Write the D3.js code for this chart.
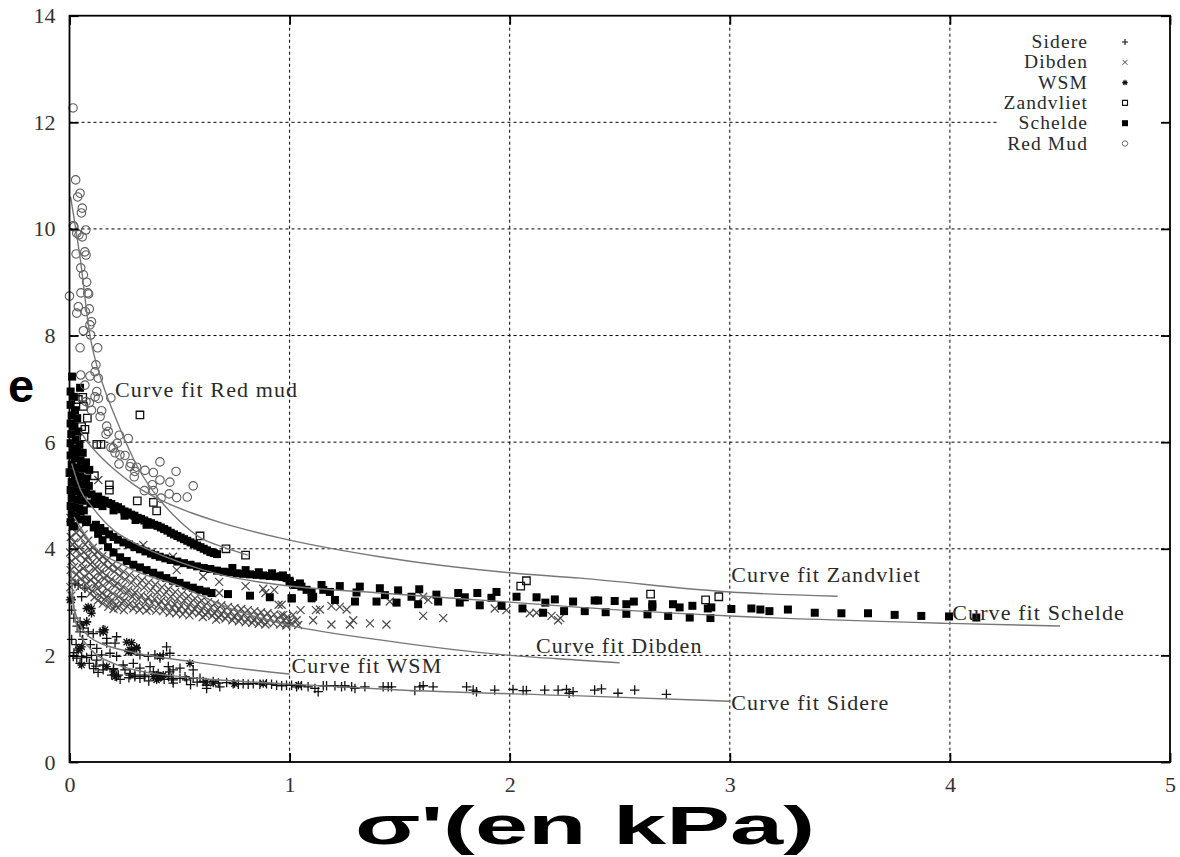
<!DOCTYPE html>
<html>
<head>
<meta charset="utf-8">
<script src="https://cdnjs.cloudflare.com/ajax/libs/d3/7.8.5/d3.min.js"></script>
<style>
  html, body { margin: 0; padding: 0; background: #fff; }
  svg { display: block; }
</style>
</head>
<body>
<div id="chart"></div>
<script>
// ---- data ----
const xTicks = [0, 1, 2, 3, 4, 5];
const yTicks = [0, 2, 4, 6, 8, 10, 12, 14];
const seriesNames = ['Sidere', 'Dibden', 'WSM', 'Zandvliet', 'Schelde', 'Red Mud'];

const sidere = [
  [0.025, 3.35], [0.04, 3.32], [0.07, 3.26], [0.055, 3.10], [0.01, 2.85], [0.02, 2.7], [0.035, 2.55],
  [0.048, 2.63], [0.078, 2.63], [0.063, 2.51], [0.085, 2.44], [0.048, 2.44], [0.108, 2.41], [0.139, 2.44],
  [0.153, 2.48], [0.01, 2.3], [0.03, 2.2], [0.02, 2.05], [0.06, 2.3], [0.095, 2.2], [0.1, 2.0],
  [0.017, 1.98], [0.033, 1.95], [0.055, 1.98], [0.078, 1.96], [0.048, 1.85], [0.09, 1.85], [0.12, 1.8],
  [0.13, 1.68], [0.11, 1.75], [0.169, 2.32], [0.214, 2.35], [0.207, 2.23], [0.169, 2.23], [0.124, 2.13],
  [0.146, 2.01], [0.124, 1.91], [0.184, 2.04], [0.214, 1.98], [0.153, 1.82], [0.153, 1.73], [0.192, 1.63],
  [0.2, 1.73], [0.214, 1.6], [0.222, 1.63], [0.2, 1.75], [0.252, 1.73], [0.275, 1.63], [0.275, 1.66],
  [0.297, 1.63], [0.297, 1.6], [0.23, 1.55], [0.27, 1.58], [0.32, 1.57], [0.343, 1.63], [0.34, 1.6],
  [0.36, 1.52], [0.32, 2.01], [0.358, 1.98], [0.388, 2.01], [0.411, 1.95], [0.441, 2.16], [0.456, 2.04],
  [0.426, 2.01], [0.244, 1.82], [0.29, 1.85], [0.32, 1.76], [0.366, 1.79], [0.381, 1.69], [0.403, 1.66],
  [0.449, 1.79], [0.471, 1.73], [0.456, 1.69], [0.464, 1.57], [0.43, 1.55], [0.45, 1.6], [0.502, 1.76],
  [0.562, 1.73], [0.593, 1.57], [0.471, 1.54], [0.502, 1.57], [0.525, 1.6], [0.471, 1.48], [0.532, 1.54],
  [0.562, 1.57], [0.55, 1.45], [0.58, 1.5], [0.607, 1.51], [0.623, 1.44], [0.653, 1.51], [0.676, 1.48],
  [0.683, 1.41], [0.623, 1.38], [0.714, 1.49], [0.744, 1.47], [0.767, 1.46], [0.789, 1.47], [0.812, 1.46],
  [0.835, 1.47], [0.865, 1.46], [0.895, 1.47], [0.918, 1.46], [0.941, 1.44], [0.964, 1.43], [0.986, 1.44],
  [1.009, 1.44], [1.032, 1.41], [1.054, 1.43], [1.084, 1.41], [1.115, 1.38], [1.13, 1.32], [1.153, 1.43],
  [1.168, 1.43], [1.206, 1.43], [1.236, 1.41], [1.251, 1.43], [1.282, 1.41], [1.297, 1.38], [1.342, 1.41],
  [1.425, 1.41], [1.448, 1.41], [1.463, 1.41], [1.569, 1.34], [1.592, 1.41], [1.607, 1.43], [1.652, 1.41],
  [1.804, 1.41], [1.834, 1.35], [1.849, 1.32], [1.932, 1.35], [2.015, 1.36], [2.061, 1.34], [2.076, 1.34],
  [2.159, 1.35], [2.22, 1.35], [2.258, 1.36], [2.288, 1.32], [2.27, 1.29], [2.386, 1.35], [2.417, 1.37],
  [2.492, 1.29], [2.568, 1.35], [2.712, 1.27]
];

const dibden = [
  [0.004, 4.58], [0.012, 4.41], [0.006, 4.22], [0.015, 4.08], [0.003, 3.93], [0.01, 3.77], [0.005, 3.6],
  [0.013, 3.44], [0.004, 3.28], [0.009, 3.12], [0.025, 4.47], [0.031, 4.3], [0.022, 4.12], [0.034, 3.98],
  [0.027, 3.83], [0.021, 3.66], [0.033, 3.52], [0.026, 3.37], [0.045, 4.36], [0.052, 4.2], [0.041, 4.03],
  [0.049, 3.88], [0.055, 3.72], [0.043, 3.58], [0.051, 3.43], [0.047, 3.29], [0.064, 4.27], [0.071, 4.08],
  [0.066, 3.94], [0.074, 3.79], [0.062, 3.63], [0.07, 3.47], [0.077, 3.35], [0.085, 4.15], [0.092, 3.99],
  [0.083, 3.86], [0.095, 3.71], [0.088, 3.56], [0.097, 3.41], [0.086, 3.26], [0.094, 3.16], [0.106, 4.02],
  [0.113, 3.9], [0.104, 3.75], [0.117, 3.62], [0.109, 3.47], [0.119, 3.33], [0.103, 3.21], [0.114, 3.09],
  [0.128, 3.94], [0.135, 3.79], [0.124, 3.66], [0.139, 3.52], [0.131, 3.39], [0.126, 3.25], [0.137, 3.12],
  [0.129, 3.03], [0.149, 3.86], [0.156, 3.71], [0.145, 3.58], [0.159, 3.44], [0.152, 3.31], [0.147, 3.17],
  [0.158, 3.05], [0.151, 2.97], [0.171, 3.79], [0.178, 3.64], [0.167, 3.5], [0.181, 3.37], [0.174, 3.23],
  [0.169, 3.1], [0.184, 2.99], [0.176, 2.91], [0.195, 3.7], [0.203, 3.57], [0.191, 3.43], [0.207, 3.3],
  [0.198, 3.16], [0.193, 3.04], [0.209, 2.94], [0.2, 2.87], [0.219, 3.63], [0.228, 3.49], [0.216, 3.36],
  [0.232, 3.22], [0.223, 3.1], [0.236, 2.98], [0.221, 2.89], [0.245, 3.57], [0.254, 3.42], [0.242, 3.29],
  [0.259, 3.16], [0.249, 3.03], [0.263, 2.92], [0.247, 2.85], [0.272, 3.51], [0.281, 3.36], [0.268, 3.23],
  [0.286, 3.1], [0.276, 2.98], [0.29, 2.88], [0.3, 3.46], [0.309, 3.31], [0.297, 3.18], [0.315, 3.05],
  [0.305, 2.94], [0.318, 2.85], [0.33, 3.41], [0.339, 3.27], [0.326, 3.13], [0.345, 3.01], [0.334, 2.91],
  [0.35, 2.84], [0.36, 3.37], [0.369, 3.22], [0.357, 3.09], [0.376, 2.98], [0.364, 2.88], [0.39, 3.33],
  [0.399, 3.18], [0.386, 3.06], [0.406, 2.95], [0.394, 2.84], [0.42, 3.28], [0.43, 3.14], [0.416, 3.02],
  [0.437, 2.92], [0.425, 2.83], [0.45, 3.24], [0.46, 3.1], [0.447, 2.99], [0.467, 2.89], [0.455, 2.8],
  [0.48, 3.19], [0.49, 3.06], [0.477, 2.96], [0.497, 2.86], [0.485, 2.79], [0.51, 3.15], [0.521, 3.03],
  [0.507, 2.93], [0.528, 2.84], [0.515, 2.77], [0.54, 3.11], [0.551, 2.99], [0.537, 2.9], [0.558, 2.81],
  [0.545, 2.75], [0.57, 3.07], [0.582, 2.96], [0.567, 2.87], [0.589, 2.79], [0.6, 3.03], [0.612, 2.93],
  [0.597, 2.84], [0.619, 2.76], [0.606, 2.72], [0.63, 3.0], [0.642, 2.9], [0.627, 2.81], [0.649, 2.74],
  [0.66, 2.97], [0.672, 2.87], [0.657, 2.79], [0.679, 2.71], [0.666, 2.67], [0.69, 2.94], [0.702, 2.84],
  [0.687, 2.76], [0.709, 2.69], [0.72, 2.91], [0.733, 2.82], [0.717, 2.74], [0.74, 2.66], [0.75, 2.89],
  [0.763, 2.8], [0.747, 2.72], [0.77, 2.64], [0.78, 2.87], [0.793, 2.78], [0.777, 2.7], [0.8, 2.62],
  [0.81, 2.85], [0.823, 2.76], [0.807, 2.68], [0.83, 2.61], [0.84, 2.83], [0.853, 2.74], [0.837, 2.66],
  [0.86, 2.59], [0.87, 2.81], [0.883, 2.72], [0.867, 2.64], [0.89, 2.58], [0.9, 2.79], [0.913, 2.7],
  [0.897, 2.62], [0.93, 2.77], [0.943, 2.68], [0.927, 2.6], [0.96, 2.75], [0.973, 2.66], [0.957, 2.58],
  [0.99, 2.72], [1.0, 2.63], [0.985, 2.56],
  [0.131, 5.29], [0.335, 4.07], [0.47, 3.85], [0.607, 3.48], [0.487, 3.6],
  [0.68, 3.38], [0.68, 3.17], [0.8, 3.3], [0.88, 3.25], [0.89, 3.17], [0.93, 3.23], [1.02, 3.32],
  [0.95, 2.95], [1.05, 2.85], [1.12, 2.85], [0.964, 2.95], [0.971, 2.76], [1.016, 2.76], [1.032, 2.66],
  [1.009, 2.6], [1.039, 2.57], [0.986, 2.6], [1.138, 2.86], [1.107, 2.66], [1.19, 2.93], [1.228, 2.91],
  [1.259, 2.86], [1.19, 2.58], [1.274, 2.58], [1.289, 2.66], [1.365, 2.6], [1.44, 2.58], [1.455, 3.01],
  [1.607, 3.1], [1.63, 3.04], [1.607, 2.74], [1.698, 2.7], [1.932, 2.88], [1.985, 2.85], [2.091, 2.79],
  [2.122, 2.8], [2.19, 2.74], [2.22, 2.66], [2.23, 2.7]
];

const wsm = [
  [0.002, 3.04], [0.01, 3.04], [0.085, 2.91], [0.1, 2.88], [0.078, 2.88], [0.1, 2.79], [0.055, 2.57],
  [0.078, 2.63], [0.161, 2.48], [0.153, 2.44], [0.048, 2.13], [0.055, 2.16], [0.04, 2.1], [0.055, 1.82],
  [0.169, 1.79], [0.199, 1.69], [0.207, 1.6], [0.26, 2.25], [0.267, 2.07], [0.275, 2.1], [0.282, 2.1],
  [0.282, 2.07], [0.305, 2.15], [0.305, 2.13], [0.282, 2.24], [0.381, 1.6], [0.411, 1.6], [0.396, 1.54],
  [0.426, 1.63], [0.403, 1.57], [0.419, 1.6], [0.396, 1.63], [0.411, 1.98], [0.547, 1.85], [0.62, 1.5],
  [0.653, 1.48], [0.75, 1.47], [0.88, 1.47], [1.04, 1.44]
];

const zandvliet = [
  [0.32, 6.51], [0.06, 6.84], [0.04, 6.8], [0.063, 6.67], [0.081, 6.45], [0.055, 6.29], [0.07, 6.24],
  [0.066, 6.1], [0.124, 5.96], [0.143, 5.96], [0.002, 5.43], [0.113, 5.37], [0.181, 5.2], [0.181, 5.1],
  [0.308, 4.9], [0.381, 4.87], [0.396, 4.71], [0.593, 4.24], [0.711, 4.0], [0.8, 3.88],
  [2.076, 3.4], [2.05, 3.3], [2.64, 3.15], [2.89, 3.04], [2.95, 3.1]
];

const schelde = [
  // dense column against the axis
  [0.012, 7.23], [0.048, 7.02], [0.005, 6.95], [0.02, 6.85], [0.005, 6.7], [0.025, 6.6], [0.01, 6.5],
  [0.035, 6.45], [0.005, 6.35], [0.02, 6.3], [0.04, 6.2], [0.008, 6.15], [0.028, 6.05], [0.005, 5.98],
  [0.045, 5.95], [0.015, 5.88], [0.035, 5.82], [0.06, 5.8], [0.005, 5.75], [0.025, 5.7], [0.05, 5.65],
  [0.075, 5.62], [0.01, 5.58], [0.035, 5.52], [0.06, 5.5], [0.09, 5.48], [0.005, 5.42], [0.025, 5.38],
  [0.05, 5.35], [0.075, 5.32], [0.01, 5.25], [0.035, 5.22], [0.06, 5.2], [0.088, 5.18], [0.005, 5.1],
  [0.025, 5.08], [0.05, 5.05], [0.075, 5.05], [0.01, 4.95], [0.035, 4.92], [0.06, 4.9], [0.005, 4.8],
  [0.025, 4.78], [0.045, 4.75], [0.065, 4.72], [0.01, 4.65], [0.03, 4.6], [0.05, 4.55], [0.075, 4.5],
  [0.005, 4.5], [0.02, 4.42],
  // upper run
  [0.1, 5.02], [0.115, 4.96], [0.13, 4.98], [0.145, 4.92], [0.16, 4.9], [0.175, 4.86], [0.19, 4.84],
  [0.205, 4.8], [0.22, 4.78], [0.235, 4.74], [0.25, 4.7], [0.265, 4.68], [0.28, 4.64], [0.295, 4.62],
  [0.31, 4.58], [0.325, 4.56], [0.34, 4.53], [0.355, 4.5], [0.37, 4.48], [0.385, 4.45], [0.4, 4.43],
  [0.415, 4.4], [0.43, 4.37], [0.445, 4.34], [0.46, 4.3], [0.475, 4.27], [0.49, 4.24], [0.505, 4.21],
  [0.52, 4.18], [0.535, 4.15], [0.55, 4.12], [0.565, 4.09], [0.58, 4.06], [0.595, 4.03], [0.61, 4.0],
  [0.625, 3.97], [0.64, 3.94], [0.655, 3.92], [0.67, 3.9],
  [0.095, 4.85], [0.12, 4.84], [0.15, 4.8], [0.2, 4.72], [0.25, 4.62], [0.3, 4.54], [0.35, 4.45],
  // middle run
  [0.12, 4.45], [0.14, 4.39], [0.16, 4.33], [0.18, 4.27], [0.2, 4.22], [0.22, 4.17], [0.245, 4.12],
  [0.27, 4.08], [0.295, 4.03], [0.32, 3.99], [0.345, 3.95], [0.37, 3.91], [0.39, 3.88], [0.41, 3.85],
  [0.435, 3.82], [0.46, 3.79], [0.49, 3.76], [0.52, 3.73], [0.55, 3.7], [0.58, 3.67], [0.61, 3.64],
  [0.64, 3.62], [0.67, 3.59], [0.7, 3.57], [0.73, 3.56], [0.76, 3.54], [0.79, 3.53], [0.82, 3.52],
  [0.85, 3.51], [0.88, 3.5], [0.91, 3.49], [0.94, 3.48], [0.97, 3.47], [1.0, 3.4],
  [0.74, 3.64], [0.8, 3.6], [0.86, 3.56], [0.92, 3.54], [0.97, 3.5],
  // lower run
  [0.05, 4.7], [0.08, 4.55], [0.11, 4.4], [0.13, 4.28], [0.15, 4.16], [0.175, 4.03], [0.2, 3.93],
  [0.23, 3.84], [0.26, 3.77], [0.29, 3.7], [0.32, 3.65], [0.35, 3.6], [0.38, 3.55], [0.41, 3.5],
  [0.44, 3.45], [0.47, 3.4], [0.5, 3.36], [0.53, 3.31], [0.56, 3.27], [0.59, 3.23], [0.62, 3.2],
  [0.645, 3.17], [0.72, 3.15], [0.82, 3.12], [0.91, 3.09], [1.01, 3.07], [1.1, 3.07],
  // scattered tail
  [0.964, 3.48], [0.986, 3.45], [1.001, 3.38], [1.024, 3.32], [1.047, 3.35], [1.054, 3.29], [1.009, 3.07],
  [1.077, 3.23], [1.1, 3.19], [1.107, 3.1], [1.145, 3.32], [1.153, 3.23], [1.183, 3.19], [1.206, 3.04],
  [1.228, 3.3], [1.297, 3.01], [1.304, 3.18], [1.319, 3.29], [1.395, 3.01], [1.41, 3.26], [1.433, 3.13],
  [1.486, 2.99], [1.493, 3.22], [1.554, 3.1], [1.584, 2.96], [1.589, 3.24], [1.667, 3.14], [1.675, 3.01],
  [1.766, 3.17], [1.773, 2.99], [1.796, 3.09], [1.853, 3.17], [1.864, 2.94], [1.917, 3.08], [1.94, 3.19],
  [1.963, 2.93], [2.031, 3.1], [2.058, 2.88], [2.122, 3.09], [2.162, 2.99], [2.152, 2.8], [2.205, 3.05],
  [2.247, 2.83], [2.288, 3.01], [2.341, 2.83], [2.386, 3.03], [2.402, 3.03], [2.436, 2.81], [2.477, 3.02],
  [2.53, 2.96], [2.53, 2.78], [2.564, 3.01], [2.626, 2.77], [2.648, 2.96], [2.648, 2.91], [2.72, 2.74],
  [2.742, 2.96], [2.772, 2.9], [2.83, 2.93], [2.818, 2.71], [2.9, 2.88], [2.916, 2.9], [2.912, 2.7],
  [3.007, 2.87], [3.098, 2.88], [3.139, 2.86], [3.18, 2.83], [3.264, 2.86], [3.386, 2.8], [3.507, 2.79],
  [3.628, 2.79], [3.749, 2.76], [3.87, 2.74], [3.996, 2.73], [4.12, 2.71]
];

const redMud = [
  [0.016, 12.27], [0.028, 10.92], [0.048, 10.67], [0.037, 10.6], [0.058, 10.39], [0.054, 10.3],
  [0.02, 10.04], [0.017, 10.06], [0.074, 9.98], [0.043, 9.89], [0.033, 9.92], [0.058, 9.85], [0.03, 9.53],
  [0.07, 9.57], [0.075, 9.51], [0.051, 9.27], [0.063, 9.14], [0.078, 9.0], [0.052, 8.8], [0.083, 8.8],
  [0.087, 8.78], [0.0, 8.74], [0.04, 8.54], [0.033, 8.42], [0.072, 8.45], [0.09, 8.5], [0.1, 8.26],
  [0.093, 8.2], [0.063, 8.09], [0.096, 8.01], [0.048, 7.77], [0.128, 7.77], [0.12, 7.45], [0.051, 7.26],
  [0.093, 7.24], [0.116, 7.32], [0.131, 7.2], [0.07, 7.07], [0.124, 6.95], [0.116, 6.85], [0.131, 6.82],
  [0.188, 6.83], [0.075, 6.76], [0.09, 6.74], [0.1, 6.6], [0.146, 6.59], [0.139, 6.48], [0.169, 6.3],
  [0.176, 6.2], [0.166, 6.15], [0.226, 6.13], [0.267, 6.07], [0.217, 5.98], [0.199, 5.89], [0.188, 5.9],
  [0.207, 5.8], [0.229, 5.76], [0.252, 5.75], [0.225, 5.59], [0.279, 5.6], [0.275, 5.54], [0.305, 5.53],
  [0.411, 5.63], [0.297, 5.45], [0.343, 5.47], [0.381, 5.43], [0.484, 5.45], [0.294, 5.35], [0.411, 5.29],
  [0.456, 5.25], [0.376, 5.2], [0.562, 5.18], [0.34, 5.09], [0.381, 5.09], [0.453, 5.03], [0.487, 4.96],
  [0.535, 4.97], [0.416, 4.95]
];

// curve fits
const fitRedMud = [[0.005, 10.6], [0.05, 9.4], [0.093, 8.0], [0.12, 7.5], [0.15, 7.1], [0.215, 6.4],
  [0.31, 5.53], [0.41, 4.92], [0.5, 4.52], [0.59, 4.22], [0.7, 4.03], [0.81, 3.88]];
const fitZandvliet = [[0.05, 6.2], [0.075, 6.04], [0.12, 5.82], [0.2, 5.5], [0.3, 5.18], [0.41, 4.92],
  [0.55, 4.68], [0.68, 4.5], [0.96, 4.2], [1.41, 3.85], [2.0, 3.55], [2.32, 3.45], [3.0, 3.19], [3.49, 3.11]];
const fitSchelde = [[0.01, 5.6], [0.05, 5.1], [0.1, 4.8], [0.2, 4.35], [0.3, 4.1], [0.5, 3.75],
  [0.7, 3.5], [0.96, 3.32], [1.41, 3.17], [2.0, 3.0], [2.32, 2.9], [3.0, 2.74], [4.0, 2.6], [4.5, 2.55]];
const fitDibden = [[0.02, 4.6], [0.1, 4.1], [0.26, 3.66], [0.5, 3.3], [0.75, 2.85], [0.96, 2.6],
  [1.41, 2.29], [2.0, 2.0], [2.32, 1.91], [2.5, 1.86]];
const fitWSM = [[0.005, 3.2], [0.03, 2.75], [0.11, 2.29], [0.3, 2.05], [0.56, 1.88], [0.8, 1.74], [1.0, 1.65]];
const fitSidere = [[0.004, 3.7], [0.03, 2.6], [0.1, 2.1], [0.2, 1.85], [0.33, 1.7], [0.56, 1.58],
  [0.96, 1.47], [1.5, 1.35], [2.32, 1.24], [3.0, 1.14]];

const fitLabels = ['Curve fit Red mud', 'Curve fit Zandvliet', 'Curve fit Schelde',
  'Curve fit Dibden', 'Curve fit WSM', 'Curve fit Sidere'];
const fitLabelAt = [[0.207, 6.85], [3.007, 3.38], [4.011, 2.66], [2.119, 2.05], [1.009, 1.675], [3.007, 0.976]];

// ---- layout ----
const W = 1180, H = 857;
const PLOT = { left: 69.5, right: 1170, top: 15.7, bottom: 762 };
const SERIF = '"Liberation Serif", "Times New Roman", serif';
const SANS = '"Liberation Sans", Arial, sans-serif';

const svg = d3.select('#chart').append('svg').attr('width', W).attr('height', H);

const x = d3.scaleLinear().domain([0, 5]).range([PLOT.left, PLOT.right]);
const y = d3.scaleLinear().domain([0, 14]).range([PLOT.bottom, PLOT.top]);

// gnuplot-ish point shapes, drawn through d3.symbol with custom types
const shapes = {
  plus: { draw(c, s) { const r = Math.sqrt(s) / 2; c.moveTo(-r, 0); c.lineTo(r, 0); c.moveTo(0, -r); c.lineTo(0, r); } },
  times: { draw(c, s) { const r = Math.sqrt(s) / 2; c.moveTo(-r, -r); c.lineTo(r, r); c.moveTo(r, -r); c.lineTo(-r, r); } },
  star: { draw(c, s) { const r = Math.sqrt(s) / 2; c.moveTo(-r, 0); c.lineTo(r, 0); c.moveTo(0, -r); c.lineTo(0, r);
    const q = r * 0.75; c.moveTo(-q, -q); c.lineTo(q, q); c.moveTo(q, -q); c.lineTo(-q, q); } },
  square: { draw(c, s) { const r = Math.sqrt(s) / 2; c.moveTo(-r, -r); c.lineTo(r, -r); c.lineTo(r, r); c.lineTo(-r, r); c.closePath(); } },
  circle: { draw(c, s) { const r = Math.sqrt(s) / 2; c.moveTo(r, 0); c.arc(0, 0, r, 0, 2 * Math.PI); } }
};

const series = [
  { name: 'Sidere', data: sidere, shape: shapes.plus, size: 90, fill: 'none', stroke: '#111', sw: 1.3, legendSize: 36 },
  { name: 'Dibden', data: dibden, shape: shapes.times, size: 64, fill: 'none', stroke: '#4a4a4a', sw: 1.2, legendSize: 25 },
  { name: 'WSM', data: wsm, shape: shapes.star, size: 70, fill: 'none', stroke: '#111', sw: 1.3, legendSize: 30 },
  { name: 'Zandvliet', data: zandvliet, shape: shapes.square, size: 56, fill: 'none', stroke: '#111', sw: 1.3, legendSize: 25 },
  { name: 'Schelde', data: schelde, shape: shapes.square, size: 64, fill: '#000', stroke: 'none', sw: 0, legendSize: 36 },
  { name: 'Red Mud', data: redMud, shape: shapes.circle, size: 72, fill: 'none', stroke: '#5e5e5e', sw: 1.1, legendSize: 30 }
];

const fits = [fitRedMud, fitZandvliet, fitSchelde, fitDibden, fitWSM, fitSidere];

// ---- grid ----
const grid = svg.append('g');
grid.selectAll('line.gx').data(xTicks.filter(d => d > 0 && d < 5)).enter().append('line')
  .attr('x1', d => x(d)).attr('x2', d => x(d)).attr('y1', y(14)).attr('y2', y(0))
  .attr('stroke', '#000').attr('stroke-width', 1).attr('stroke-dasharray', '3,3');
grid.selectAll('line.gy').data(yTicks.filter(d => d > 0 && d < 14)).enter().append('line')
  .attr('x1', x(0)).attr('x2', x(5)).attr('y1', d => y(d)).attr('y2', d => y(d))
  .attr('stroke', '#000').attr('stroke-width', 1).attr('stroke-dasharray', '3,3');

// legend backdrop hides the grid underneath
svg.append('rect').attr('x', 997).attr('y', 26).attr('width', 166).attr('height', 132).attr('fill', '#fff');

// ---- points ----
const pts = svg.append('g');
series.forEach(s => {
  const gen = d3.symbol().type(s.shape).size(s.size);
  pts.append('g').selectAll('path').data(s.data).enter().append('path')
    .attr('transform', d => `translate(${x(d[0])},${y(d[1])})`)
    .attr('d', gen)
    .attr('fill', s.fill).attr('stroke', s.stroke).attr('stroke-width', s.sw);
});

// ---- fit curves ----
const line = d3.line().x(d => x(d[0])).y(d => y(d[1])).curve(d3.curveMonotoneX);
svg.append('g').selectAll('path').data(fits).enter().append('path')
  .attr('d', line).attr('fill', 'none').attr('stroke', '#777').attr('stroke-width', 1.4);

svg.append('g').selectAll('text').data(fitLabels).enter().append('text')
  .attr('x', (d, i) => x(fitLabelAt[i][0])).attr('y', (d, i) => y(fitLabelAt[i][1]))
  .attr('font-family', SERIF).attr('font-size', 22).attr('fill', '#2a2a2a')
  .attr('letter-spacing', 1.1).text(d => d);

// ---- frame, ticks, tick labels ----
svg.append('rect').attr('x', x(0)).attr('y', y(14)).attr('width', x(5) - x(0)).attr('height', y(0) - y(14))
  .attr('fill', 'none').attr('stroke', '#000').attr('stroke-width', 1.8);

const xAxisB = d3.axisBottom(x).tickValues(xTicks).tickSize(-9).tickPadding(14).tickFormat(d3.format('d'));
const xAxisT = d3.axisTop(x).tickValues(xTicks).tickSize(-9).tickFormat('');
const yAxisL = d3.axisLeft(y).tickValues(yTicks).tickSize(-9).tickPadding(14).tickFormat(d3.format('d'));
const yAxisR = d3.axisRight(y).tickValues(yTicks).tickSize(-9).tickFormat('');

const axes = [
  svg.append('g').attr('transform', `translate(0,${y(0)})`).call(xAxisB),
  svg.append('g').attr('transform', `translate(0,${y(14)})`).call(xAxisT),
  svg.append('g').attr('transform', `translate(${x(0)},0)`).call(yAxisL),
  svg.append('g').attr('transform', `translate(${x(5)},0)`).call(yAxisR)
];
axes.forEach(a => {
  a.select('.domain').remove();
  a.selectAll('line').attr('stroke', '#000').attr('stroke-width', 1.8);
  a.selectAll('text').attr('font-family', SERIF).attr('font-size', 22).attr('fill', '#333');
});

// ---- legend ----
const legend = svg.append('g');
series.forEach((s, i) => {
  const cy = 42 + i * 20.3;
  legend.append('text').attr('x', 1088).attr('y', cy + 6).attr('text-anchor', 'end')
    .attr('font-family', SERIF).attr('font-size', 19.5).attr('letter-spacing', 1.1)
    .attr('fill', '#2a2a2a').text(seriesNames[i]);
  legend.append('path').attr('transform', `translate(1125,${cy})`)
    .attr('d', d3.symbol().type(s.shape).size(s.legendSize))
    .attr('fill', s.fill).attr('stroke', s.stroke).attr('stroke-width', Math.max(s.sw - 0.2, 0));
});

// ---- axis titles ----
svg.append('text').attr('x', 8).attr('y', 402).attr('font-family', SANS).attr('font-weight', 'bold')
  .attr('font-size', 47).attr('fill', '#000').text('e');
svg.append('text').attr('x', 355).attr('y', 844).attr('font-family', SANS).attr('font-weight', 'bold')
  .attr('font-size', 54).attr('fill', '#000')
  .attr('textLength', 460).attr('lengthAdjust', 'spacingAndGlyphs').text("σ'(en kPa)");
</script>
</body>
</html>
